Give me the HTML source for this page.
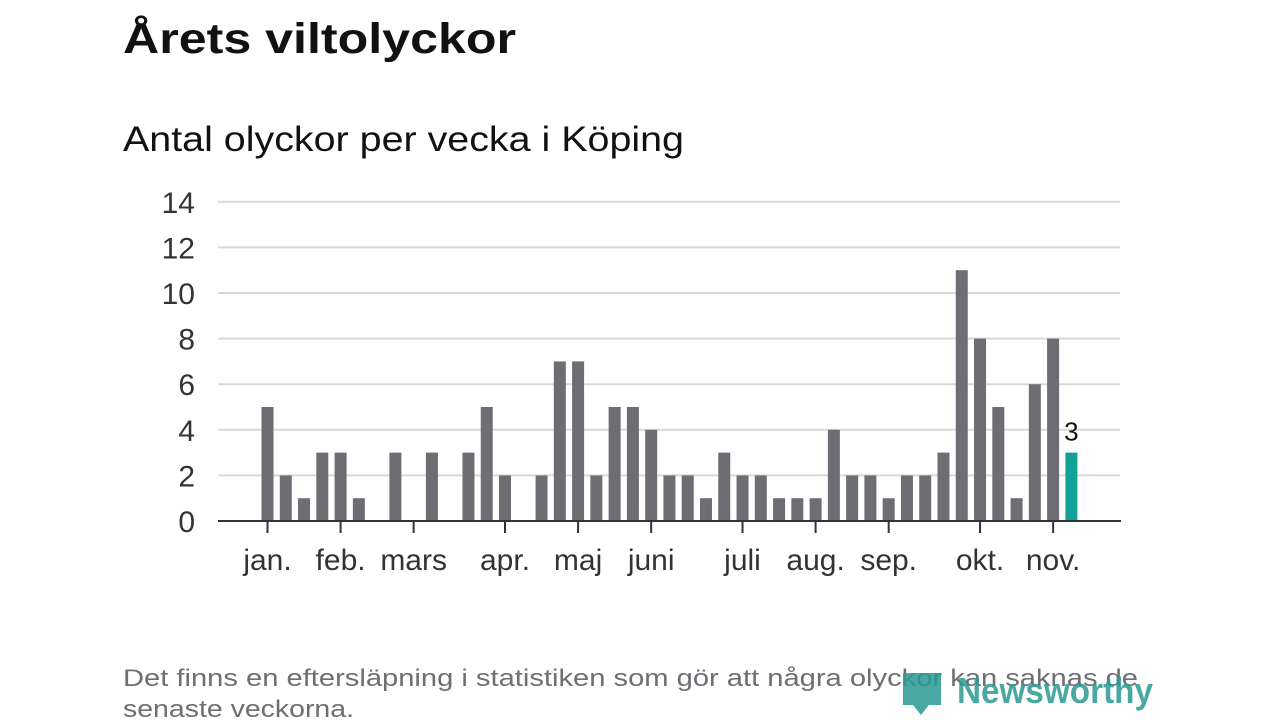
<!DOCTYPE html>
<html><head><meta charset="utf-8"><style>
html,body{margin:0;padding:0;background:#fff;}
svg{display:block;font-family:"Liberation Sans","DejaVu Sans",sans-serif;}
</style></head><body>
<svg width="1280" height="720" viewBox="0 0 1280 720">
<text x="123" y="53" font-size="43" font-weight="bold" fill="#111" textLength="393" lengthAdjust="spacingAndGlyphs">Årets viltolyckor</text>
<text x="123" y="151" font-size="35" fill="#111" textLength="561" lengthAdjust="spacingAndGlyphs">Antal olyckor per vecka i Köping</text>
<g id="grid"></g>
<g id="bars"></g>
<g id="xaxis"></g>
<text x="123" y="686" font-size="24" fill="#6e6e73" textLength="1015" lengthAdjust="spacingAndGlyphs">Det finns en eftersläpning i statistiken som gör att några olyckor kan saknas de</text>
<text x="123" y="717" font-size="24" fill="#6e6e73" textLength="231" lengthAdjust="spacingAndGlyphs">senaste veckorna.</text>
<g opacity="0.85">
<path d="M903 673 h38 v32 h-12 l-8 10 l-8 -10 h-10 z" fill="#2b9a92"/>
<text x="957" y="703" font-size="36" font-weight="bold" fill="#2b9a92" textLength="196" lengthAdjust="spacingAndGlyphs">Newsworthy</text>
</g>
</svg>
<script>
const values=[5,2,1,3,3,1,0,3,0,3,0,3,5,2,0,2,7,7,2,5,5,4,2,2,1,3,2,2,1,1,1,4,2,2,1,2,2,3,11,8,5,1,6,8,3];
const yTicks=[0,2,4,6,8,10,12,14];
const months=["jan.","feb.","mars","apr.","maj","juni","juli","aug.","sep.","okt.","nov."];
const monthWeek=[0,4,8,13,17,21,26,30,34,39,43];
const NS="http://www.w3.org/2000/svg";
const x0=267.5, step=18.27, barW=12;
const y=v=>521-v*22.8;
const x=i=>x0+i*step;
function mk(t,a,p,txt){const e=document.createElementNS(NS,t);for(const k in a)e.setAttribute(k,a[k]);if(txt!==undefined)e.textContent=txt;p.appendChild(e);return e;}
const grid=document.getElementById('grid'),bars=document.getElementById('bars'),xa=document.getElementById('xaxis');
yTicks.forEach(t=>{
 if(t>0){const l=mk('line',{x1:218,x2:1120,y1:y(t),y2:y(t),stroke:'#d9d9d9','stroke-width':2},grid);
 
 }
 const tx=mk('text',{x:195,y:y(t)+11,'font-size':30,fill:'#333','text-anchor':'end'},grid,String(t));
 
 
});
values.forEach((v,i)=>{
 const last=i===values.length-1;
 const r=mk('rect',{x:x(i)-barW/2,y:y(v),width:barW,height:v*22.8,fill:last?'#13a096':'#6e6d73'},bars);
 
 
 if(last){const t=mk('text',{x:x(i),y:y(v)-12,'font-size':26,fill:'#111','text-anchor':'middle'},bars,String(v));
 
 }
});
const ax=mk('line',{x1:218,x2:1121,y1:521,y2:521,stroke:'#333','stroke-width':2},xa);


months.forEach((m,k)=>{
 const xx=x(monthWeek[k]);
 const tk=mk('line',{x1:xx,x2:xx,y1:521,y2:533,stroke:'#333','stroke-width':2},xa);
 
 
 const t=mk('text',{x:xx,y:570,'font-size':30,fill:'#333','text-anchor':'middle'},xa,m);
 
 
});
</script>
</body></html>
